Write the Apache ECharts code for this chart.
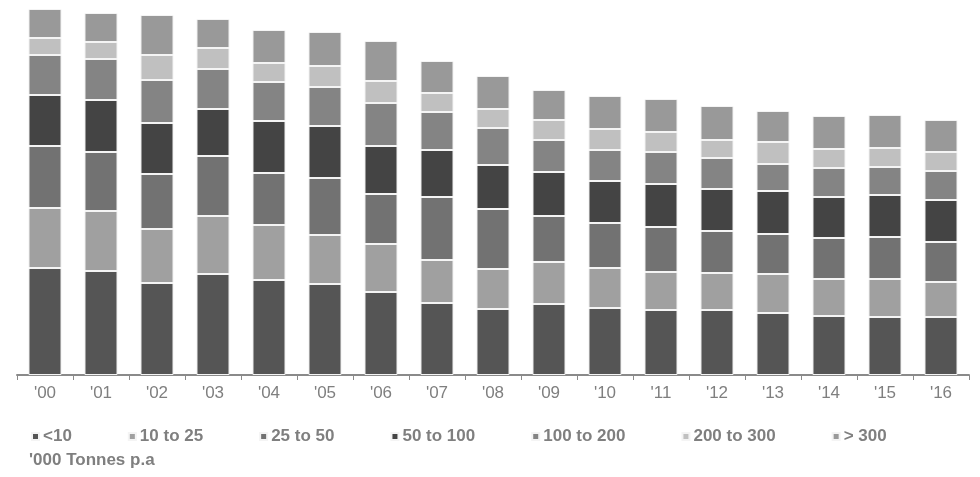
<!DOCTYPE html>
<html>
<head>
<meta charset="utf-8">
<script src="https://cdn.jsdelivr.net/npm/echarts@6/dist/echarts.min.js"></script>
<style>html,body{margin:0;padding:0;background:#fff}#c{width:980px;height:477px}</style>
</head>
<body>
<div id="c"></div>
<script>
const categories = ["'00","'01","'02","'03","'04","'05","'06","'07","'08","'09","'10","'11","'12","'13","'14","'15","'16"];
const seriesNames = ['<10','10 to 25','25 to 50','50 to 100','100 to 200','200 to 300','> 300'];
const s_lt10     = [107,104,92,101,95,91,83,72,66,71,67,65,65,62,59,58,58];
const s_10_25    = [60,60,54,58,55,49,48,43,40,42,40,38,37,39,37,38,35];
const s_25_50    = [62,59,55,60,52,57,50,63,60,46,45,45,42,40,41,42,40];
const s_50_100   = [51,52,51,47,52,52,48,47,44,44,42,43,42,43,41,42,42];
const s_100_200  = [40,41,43,40,39,39,43,38,37,32,31,32,31,27,29,28,29];
const s_200_300  = [17,17,25,21,19,21,22,19,19,20,21,20,18,22,19,19,19];
const s_gt300    = [29,29,40,29,33,34,40,32,33,30,33,33,34,31,33,33,32];
const unitLabel = "'000 Tonnes p.a";

const values = [s_lt10,s_10_25,s_25_50,s_50_100,s_100_200,s_200_300,s_gt300];
const colors = ['#555555','#a0a0a0','#727272','#444444','#848484','#c0c0c0','#999999'];

const chart = echarts.init(document.getElementById('c'));
chart.setOption({
  animation:false,
  backgroundColor:'#ffffff',
  color:colors,
  title:{text:unitLabel,left:29,top:452,padding:0,textStyle:{fontFamily:'Liberation Sans, Arial',fontSize:17,fontWeight:'bold',color:'#7f7f7f'}},
  legend:{
    left:31, top:428, padding:0, itemWidth:7, itemHeight:7, itemGap:56,
    icon:'rect',
    textStyle:{fontFamily:'Liberation Sans, Arial',fontSize:17,fontWeight:'bold',color:'#7f7f7f',padding:[0,0,0,-1]},
    data:seriesNames
  },
  grid:{left:17,right:11,top:5,bottom:102,containLabel:false},
  xAxis:{
    type:'category', data:categories,
    axisLine:{lineStyle:{color:'#8a8a8a',width:2}},
    axisTick:{show:true,length:5,lineStyle:{color:'#8a8a8a',width:1}},
    axisLabel:{fontFamily:'Liberation Sans, Arial',fontSize:17,color:'#7f7f7f',margin:10}
  },
  yAxis:{type:'value',min:0,max:370,show:false,splitLine:{show:false}},
  series: seriesNames.map((n,i)=>({
    name:n, type:'bar', stack:'total', data:values[i],
    barCategoryGap:'41%',
    itemStyle:{color:colors[i],borderColor:'#f4f4f4',borderWidth:1}
  }))
});
</script>
</body>
</html>
